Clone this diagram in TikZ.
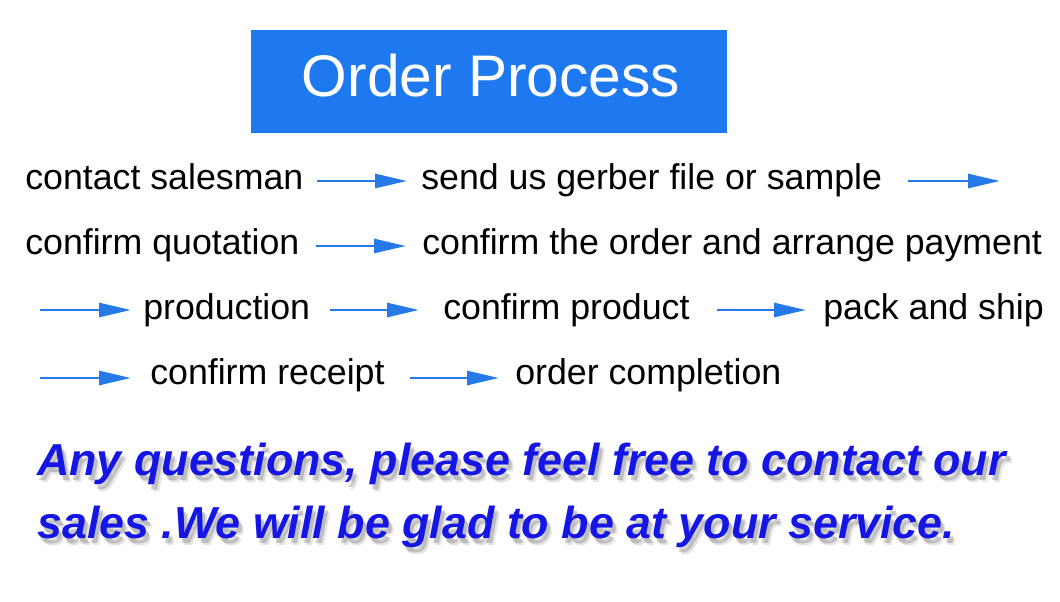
\documentclass[tikz,border=0pt]{standalone}
\usepackage{fontspec}
\setmainfont{Liberation Sans}
\usetikzlibrary{arrows.meta}
\definecolor{titleblue}{RGB}{30,121,240}
\definecolor{arrowblue}{RGB}{38,122,232}
\definecolor{noteblue}{RGB}{22,22,228}
\definecolor{shadowgray}{RGB}{120,120,120}
\begin{document}
\begin{tikzpicture}[x=0.75pt,y=-0.75pt,
  steptext/.style={anchor=base west,inner sep=0pt,font=\fontsize{26.8}{30}\selectfont,text=black},
  flowarrow/.style={draw=arrowblue,line width=2.2pt,-{Triangle[length=24pt,width=10.5pt]},arrowblue},
  notetext/.style={anchor=base west,inner sep=0pt,font=\fontsize{33.6}{40}\selectfont\bfseries\itshape},
]
\useasboundingbox (0,0) rectangle (1060,601);
\fill[white] (0,0) rectangle (1060,601);
% title
\node[fill=titleblue,minimum width=357pt,minimum height=77.25pt,inner sep=0pt] (title) at (489,81.5) {};
\node[anchor=base,inner sep=0pt,text=white,font=\fontsize{44}{50}\selectfont] (titletext) at (491,96) {Order Process};
% steps
\node[steptext] (contact) at (25,189) {contact salesman};
\node[steptext] (send) at (421,189) {send us gerber file or sample};
\coordinate (r1a) at (908,181);
\coordinate (r1b) at (1000,181);
\node[steptext] (quote) at (25,254) {confirm quotation};
\node[steptext] (order) at (422,254) {confirm the order and arrange payment};
\coordinate (r3a) at (40,310);
\node[steptext] (prod) at (143,319) {production};
\node[steptext] (cprod) at (443,319) {confirm product};
\node[steptext] (pack) at (823,319) {pack and ship};
\coordinate (r4a) at (40,378);
\node[steptext] (receipt) at (150,384) {confirm receipt};
\node[steptext] (done) at (515,384) {order completion};
% arrows
\draw[flowarrow] (317,181) coordinate (a1s) -- (407,181) coordinate (a1e);
\draw[flowarrow] (r1a) -- (r1b);
\draw[flowarrow] (316,246) coordinate (a2s) -- (406,246) coordinate (a2e);
\draw[flowarrow] (r3a) -- (131,310) coordinate (a3e);
\draw[flowarrow] (330,310) coordinate (a4s) -- (419,310) coordinate (a4e);
\draw[flowarrow] (717,310) coordinate (a5s) -- (806,310) coordinate (a5e);
\draw[flowarrow] (r4a) -- (131,378) coordinate (a6e);
\draw[flowarrow] (410,378) coordinate (a7s) -- (499,378) coordinate (a7e);
% note with shadow
\foreach \dx/\dy/\op in {3/5/0.35,5/7/0.2}{
  \node[notetext,text=shadowgray,opacity=\op] at (37+\dx,475+\dy) {Any questions, please feel free to contact our};
  \node[notetext,text=shadowgray,opacity=\op] at (37+\dx,538+\dy) {sales .We will be glad to be at your service.};
}
\node[notetext,text=noteblue] (note1) at (37,475) {Any questions, please feel free to contact our};
\node[notetext,text=noteblue] (note2) at (37,538) {sales .We will be glad to be at your service.};
\end{tikzpicture}
\end{document}
